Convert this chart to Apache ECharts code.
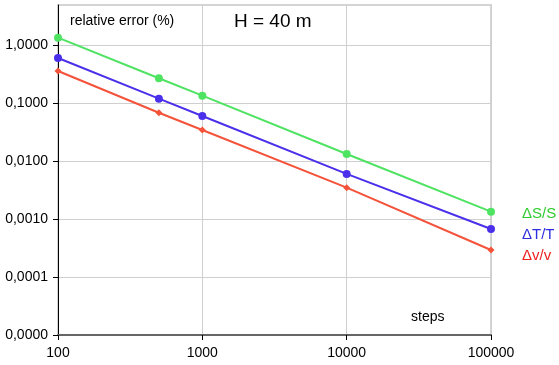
<!DOCTYPE html>
<html><head><meta charset="utf-8">
<script src="https://cdn.jsdelivr.net/npm/echarts@6/dist/echarts.min.js"></script>
<style>html,body{margin:0;padding:0;background:#fff}#c{width:559px;height:365px}</style>
</head><body><div id="c"></div>
<script>
const steps = [100, 500, 1000, 10000, 100000];
const dSS = [1.34, 0.267, 0.134, 0.0132, 0.00134];
const dTT = [0.597, 0.119, 0.0597, 0.0060, 0.000673];
const dvv = [0.356, 0.068, 0.0342, 0.00347, 0.000292];
const seriesNames = ['ΔS/S', 'ΔT/T', 'Δv/v'];
const lineColors = ['#4fe362', '#4a30ea', '#f5523a'];
const textColors = ['#2fcc2f', '#2e2ee0', '#ee2020'];
const yTickValues = [0.00001, 0.0001, 0.001, 0.01, 0.1, 1];
const yTickLabels = ['0,0000', '0,0001', '0,0010', '0,0100', '0,1000', '1,0000'];
const xTickValues = [100, 1000, 10000, 100000];
const xTickLabels = ['100', '1000', '10000', '100000'];

const chart = echarts.init(document.getElementById('c'), null, {renderer: 'canvas'});
const font = 'Liberation Sans, Arial, sans-serif';
const vals = [dSS, dTT, dvv];
const symbols = ['circle', 'circle', 'diamond'];
const sizes = [8, 8, 7];
chart.setOption({
  animation: false,
  grid: {left: 58, top: 5, right: 68, bottom: 30, show: true, borderColor: '#d4d4d4', borderWidth: 2},
  xAxis: {
    type: 'log', logBase: 10, min: 100, max: 100000, interval: 1,
    axisLine: {show: true, lineStyle: {color: '#666', width: 2}},
    axisTick: {show: true, length: 5, lineStyle: {color: '#000'}, customValues: xTickValues},
    axisLabel: {color: '#000', fontFamily: font, fontSize: 14, margin: 11, customValues: xTickValues,
      formatter: v => { const i = xTickValues.findIndex(t => Math.abs(t - v) / t < 1e-6); return i >= 0 ? xTickLabels[i] : ''; }},
    splitLine: {show: true, lineStyle: {color: '#cfcfcf', width: 1}}
  },
  yAxis: {
    type: 'log', logBase: 10, min: 0.00001, max: 4.9, interval: 1,
    axisLine: {show: true, onZero: false, lineStyle: {color: '#000', width: 1}},
    axisTick: {show: true, length: 5, lineStyle: {color: '#000'}, customValues: yTickValues},
    axisLabel: {color: '#000', fontFamily: font, fontSize: 14, margin: 10, customValues: yTickValues,
      formatter: v => { const i = yTickValues.findIndex(t => Math.abs(t - v) / t < 1e-6); return i >= 0 ? yTickLabels[i] : ''; }},
    splitLine: {show: true, lineStyle: {color: '#cfcfcf', width: 1}}
  },
  legend: {
    orient: 'vertical', left: 512, top: 201, itemGap: 6, itemWidth: 0, itemHeight: 0,
    selectedMode: false,
    textStyle: {fontFamily: font, fontSize: 15},
    data: seriesNames.map((n, i) => ({name: n, icon: 'none', textStyle: {color: textColors[i]}}))
  },
  graphic: [
    {type: 'text', left: 70, top: 14, style: {text: 'relative error (%)', font: '14px ' + font, fill: '#000'}},
    {type: 'text', left: 234, top: 12, style: {text: 'H = 40 m', font: '19px ' + font, fill: '#000'}},
    {type: 'text', left: 411, top: 310, style: {text: 'steps', font: '14px ' + font, fill: '#000'}}
  ],
  series: vals.map((d, i) => ({
    name: seriesNames[i], type: 'line',
    data: steps.map((s, j) => [s, d[j]]),
    symbol: symbols[i], symbolSize: sizes[i], showSymbol: true,
    lineStyle: {color: lineColors[i], width: 2},
    itemStyle: {color: lineColors[i]},
    z: 3 - i
  }))
});
</script></body></html>
